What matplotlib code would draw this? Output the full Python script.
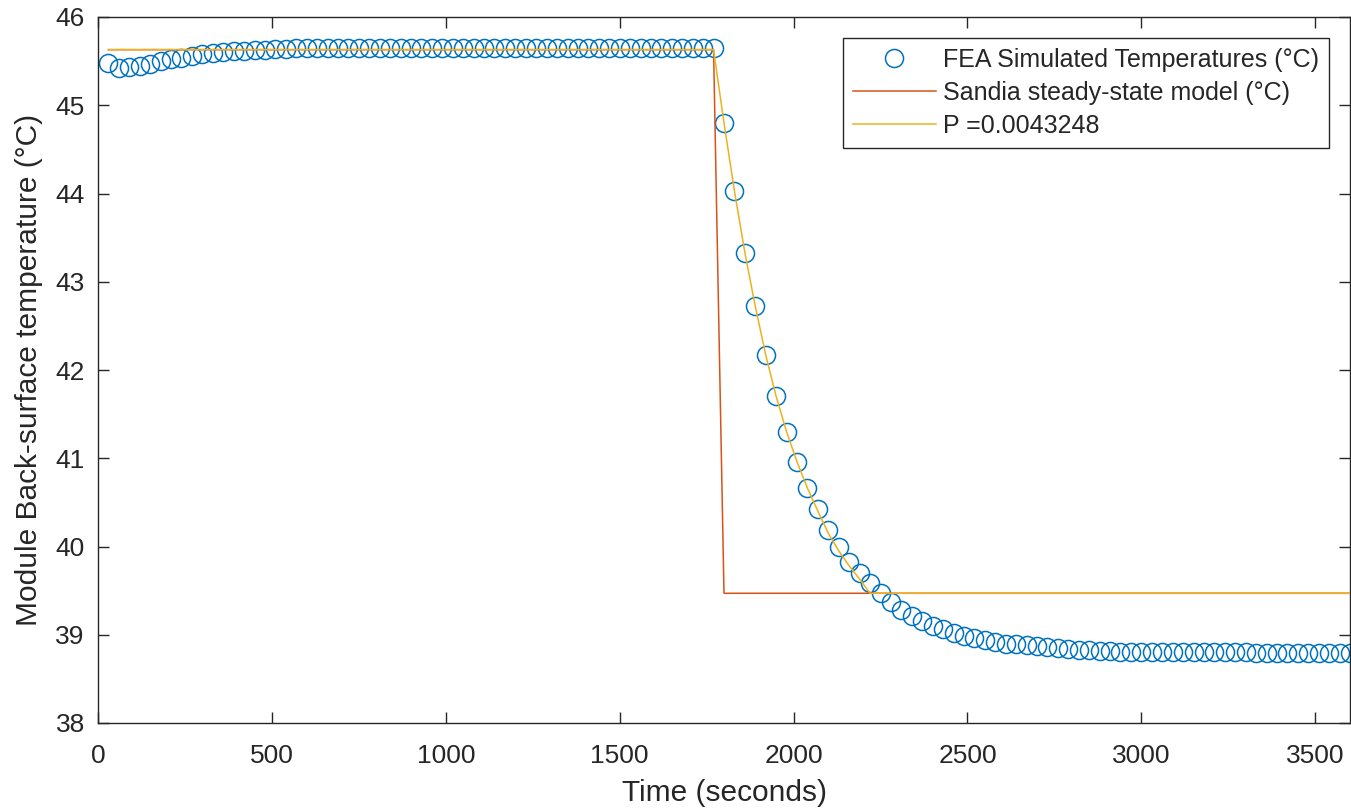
import matplotlib
matplotlib.use("Agg")
import matplotlib.pyplot as plt
import numpy as np

plt.rcParams['font.family'] = ['Liberation Sans', 'DejaVu Sans']

# Time grid (seconds)
time_s = list(range(30, 3601, 30))

# FEA simulated temperatures (°C)
fea_temp = ([45.48, 45.42, 45.43, 45.45, 45.47, 45.50, 45.52, 45.54, 45.56, 45.58,
             45.59, 45.60, 45.61, 45.62, 45.63, 45.63, 45.64, 45.64]
            + [45.65] * 41
            + [44.80, 44.03, 43.33, 42.72, 42.17, 41.70, 41.30, 40.96, 40.66, 40.42,
               40.19, 40.00, 39.83, 39.70, 39.59, 39.47]
            + [39.37, 39.28, 39.21, 39.16, 39.10, 39.06, 39.02, 38.99, 38.96, 38.94,
               38.92, 38.90, 38.89, 38.88, 38.87, 38.86, 38.85, 38.84, 38.83, 38.83,
               38.82, 38.82, 38.81, 38.81, 38.81]
            + [38.80] * 10 + [38.79] * 10)

# Sandia steady-state model (°C)
sandia_time = [30, 1770, 1800, 3600]
sandia_temp = [45.63, 45.63, 39.47, 39.47]

# P model (P = 0.0043248)
p_temp = ([45.63] * 59
          + [44.80, 44.03, 43.33, 42.72, 42.17, 41.70, 41.30, 40.96, 40.66, 40.40,
             40.15, 39.95, 39.78, 39.63, 39.47]
          + [39.47] * 46)

x_ticks = [0, 500, 1000, 1500, 2000, 2500, 3000, 3500]
y_ticks = [38, 39, 40, 41, 42, 43, 44, 45, 46]

blue = '#0072BD'
red = '#D95319'
yellow = '#EDB120'
axcol = '#262626'

fig = plt.figure(figsize=(13.51, 8.08), dpi=100)
ax = fig.add_axes([98 / 1351, (808 - 723) / 808, (1350 - 98) / 1351, (723 - 17) / 808])

ax.plot(time_s, fea_temp, linestyle='none', marker='o', markersize=13,
        markerfacecolor='none', markeredgecolor=blue, markeredgewidth=1.1,
        label='FEA Simulated Temperatures (°C)', zorder=2)
ax.plot(sandia_time, sandia_temp, color=red, linewidth=1.1,
        label='Sandia steady-state model (°C)', zorder=3)
ax.plot(time_s, p_temp, color=yellow, linewidth=1.1,
        label='P =0.0043248', zorder=4)

ax.set_xlim(0, 3600)
ax.set_ylim(38, 46)
ax.set_xticks(x_ticks)
ax.set_yticks(y_ticks)
ax.tick_params(direction='in', length=8, width=1.0, colors=axcol,
               labelsize=19, top=True, right=True)
ax.tick_params(axis='x', pad=15)
ax.tick_params(axis='y', pad=9.5)
for s in ax.spines.values():
    s.set_color(axcol)
    s.set_linewidth(1.0)

ax.set_xlabel('Time (seconds)', fontsize=21.5, color=axcol, labelpad=8)
ax.set_ylabel('Module Back-surface temperature (°C)', fontsize=21.5, color=axcol, labelpad=9)

leg = ax.legend(loc='upper right', bbox_to_anchor=(1 - 21 / 1252, 1 - 21 / 706),
                borderaxespad=0, fontsize=18, frameon=True, fancybox=False,
                framealpha=1, edgecolor=axcol, handlelength=3.3, handletextpad=0.3,
                labelspacing=0.36, borderpad=0.4)
leg.get_frame().set_linewidth(1.0)
for t in leg.get_texts():
    t.set_color(axcol)

fig.savefig('out.png', dpi=100)
